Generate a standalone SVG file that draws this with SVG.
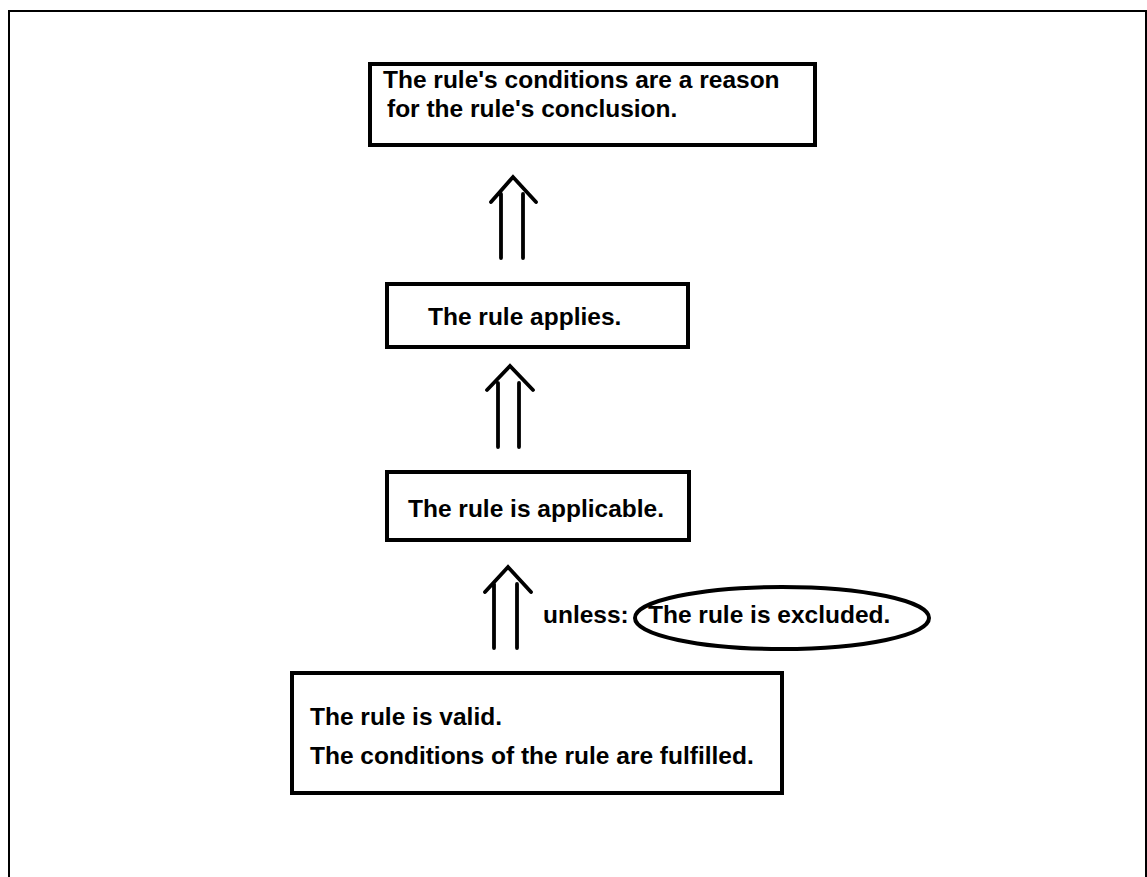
<svg xmlns="http://www.w3.org/2000/svg" width="1147" height="877" viewBox="0 0 1147 877">
<style>
.box{fill:#fff;stroke:#000;stroke-width:4}
.t{font-family:"Liberation Sans",Arial,sans-serif;font-weight:bold;font-size:24.5px;fill:#000}
.ar{fill:none;stroke:#000;stroke-width:3.8;stroke-linecap:round;stroke-linejoin:miter}
</style>
<rect width="1147" height="877" fill="#fff"/>
<rect id="frame" x="9" y="11" width="1137" height="900" fill="none" stroke="#000" stroke-width="2"/>
<g id="n-reason">
<rect class="box" x="370" y="64" width="445" height="81"/>
<text class="t" x="383" y="88">The rule's conditions are a reason</text>
<text class="t" x="387" y="117">for the rule's conclusion.</text>
</g>
<g id="n-applies">
<rect class="box" x="387" y="284" width="301" height="63"/>
<text class="t" x="428" y="325">The rule applies.</text>
</g>
<g id="n-applicable">
<rect class="box" x="387" y="472" width="302" height="68"/>
<text class="t" x="408" y="517">The rule is applicable.</text>
</g>
<g id="n-excluded">
<ellipse cx="782" cy="618" rx="147" ry="31" fill="#fff" stroke="#000" stroke-width="4"/>
<text class="t" x="648" y="623">The rule is excluded.</text>
</g>
<g id="n-valid">
<rect class="box" x="292" y="673" width="490" height="120"/>
<text class="t" x="310" y="725">The rule is valid.</text>
<text class="t" x="310" y="764">The conditions of the rule are fulfilled.</text>
</g>
<g id="connectors">
<path class="ar" d="M491 202 L513 177 L536 202 M501 194 V258 M523 194 V258"/>
<path class="ar" d="M487 390 L510 366 L533 390 M498 383 V447 M519 383 V447"/>
<path class="ar" d="M485 592 L508 567 L531 592 M494 584 V648 M517 584 V648"/>
<text class="t" x="543" y="623">unless:</text>
</g>
</svg>
